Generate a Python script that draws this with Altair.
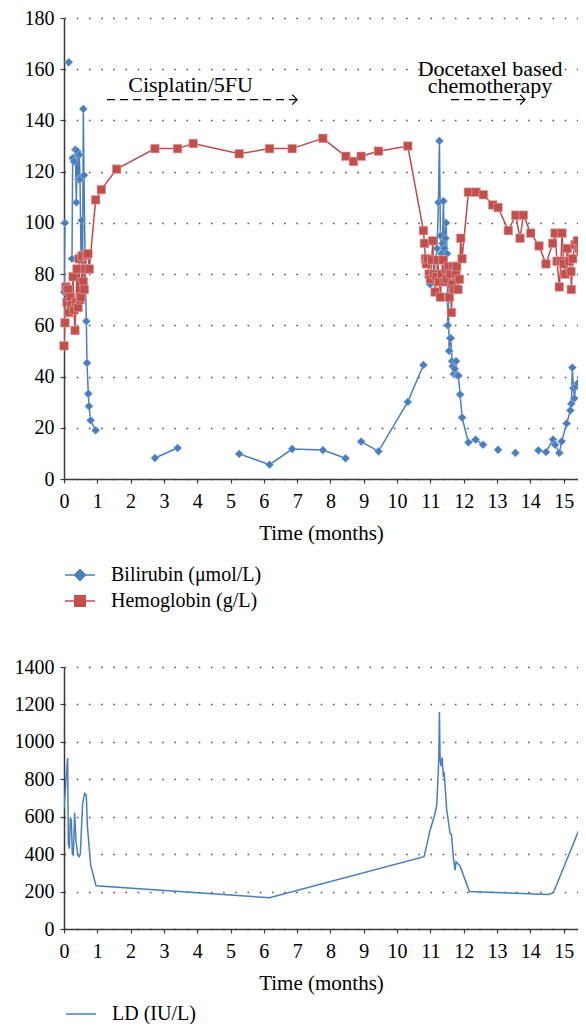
import altair as alt
import pandas as pd

FONT = "Liberation Serif"
BLUE = "#4A7EBB"
RED = "#BE4B48"
XMAX = 15.43

# ---------------- Bilirubin (umol/L) ----------------
bili_t = [0.00, 0.03,
          0.14,
          0.24, 0.26, 0.30, 0.34, 0.37, 0.40, 0.43, 0.46, 0.48, 0.51, 0.53, 0.56, 0.58, 0.60, 0.63,
          0.67, 0.69, 0.73, 0.75, 0.80, 0.95,
          2.73, 3.41,
          5.26, 6.17, 6.85, 7.77, 8.45,
          8.92, 9.44, 10.32, 10.79,
          10.99, 11.09, 11.15, 11.20, 11.24, 11.27, 11.30, 11.33, 11.36, 11.39, 11.42, 11.45, 11.47,
          11.50, 11.52, 11.54, 11.56, 11.59, 11.61, 11.65, 11.67, 11.70, 11.73, 11.77, 11.80, 11.84,
          11.89, 11.95, 12.14, 12.36, 12.58,
          13.03,
          13.55,
          14.24, 14.47, 14.68, 14.74, 14.87, 14.94, 15.09, 15.20, 15.23, 15.26, 15.29, 15.32, 15.36,
          15.43, 15.63, 15.66]
bili_v = [73, 100,
          162.7,
          86, 125.3, 124, 128.6, 108, 128, 117, 126.6, 117, 88, 101, 85, 144.5, 118.6, 88,
          61.6, 45.3, 33.3, 28.4, 22.9, 19,
          8.2, 12.1,
          9.8, 5.6, 11.7, 11.3, 8.1,
          14.6, 10.8, 30.1, 44.5,
          76, 78.5, 85, 90, 108, 132, 95, 88, 92, 108.5, 90, 94, 100,
          88, 60, 70, 50, 55, 55, 46, 44, 41, 43, 46, 40.5, 40.3,
          33, 24, 14.3, 15.4, 13.4,
          11.4,
          10.2,
          11.2, 10.5, 15.4, 13.4, 10.2, 14.7, 21.7, 26.8, 29.4, 43.5, 35.5, 31.5, 36,
          37.5, 74, 85]
bili_seg = [0, 0,
            1,
            2, 2, 2, 2, 2, 2, 2, 2, 2, 2, 2, 2, 2, 2, 2,
            2, 2, 2, 2, 2, 2,
            3, 3,
            4, 4, 4, 4, 4,
            5, 5, 5, 5,
            6, 6, 6, 6, 6, 6, 6, 6, 6, 6, 6, 6, 6,
            6, 6, 6, 6, 6, 6, 6, 6, 6, 6, 6, 6, 6,
            6, 6, 6, 6, 6,
            7,
            8,
            9, 9, 9, 9, 9, 9, 9, 9, 9, 9, 9, 9, 9,
            9, 9, 9]

# ---------------- Hemoglobin (g/L) ----------------
hb_t = [0.00, 0.03, 0.06, 0.09, 0.12, 0.15, 0.19, 0.22, 0.27, 0.30, 0.33, 0.36, 0.39, 0.42,
        0.45, 0.48, 0.51, 0.55, 0.58, 0.61, 0.64, 0.67, 0.72, 0.76,
        0.95, 1.12, 1.58, 2.73, 3.41, 3.88, 5.26, 6.17, 6.85, 7.77, 8.46, 8.69, 8.92, 9.44,
        10.32, 10.79, 10.82, 10.85, 10.88, 10.92, 10.96, 11.00, 11.04, 11.07, 11.10, 11.14,
        11.18, 11.22, 11.26, 11.30, 11.34, 11.38, 11.42, 11.46, 11.50, 11.54, 11.57, 11.60,
        11.63, 11.66, 11.69, 11.72, 11.76, 11.79, 11.83, 11.87, 11.91, 11.95,
        12.14, 12.37, 12.59, 12.87, 13.03, 13.34, 13.56, 13.69, 13.79, 14.01, 14.26, 14.47,
        14.67, 14.74, 14.80, 14.87, 14.92, 14.95, 15.00, 15.05, 15.11, 15.17, 15.22, 15.23,
        15.27, 15.34, 15.41, 15.47, 15.52, 15.59, 15.65]
hb_v = [52, 61, 75, 69, 74, 65, 71, 68, 79, 66, 58, 69, 82, 67,
        86, 70, 71, 87, 77, 74, 82, 87.5, 88, 82,
        109, 113, 121, 129, 129, 131, 127, 129, 129, 133, 126, 124, 126, 128,
        130, 97, 92, 86, 84, 86, 80, 78, 85.5, 93, 80, 73,
        79, 85.5, 77, 71, 80, 85.5, 77, 82, 78, 83, 71, 80,
        65, 76, 83, 74, 80.5, 83, 74, 78, 94, 86,
        112, 112, 111, 107, 106, 97, 103, 94, 103, 96, 91, 84,
        92, 96, 85, 75, 85, 96, 84, 80, 90, 85, 81, 74,
        86, 91.5, 93, 90, 89, 80, 97]

# ---------------- LD (IU/L) ----------------
ld_t = [0.00, 0.06, 0.11, 0.13, 0.16, 0.19, 0.22, 0.25, 0.28, 0.32, 0.36, 0.41, 0.45, 0.49,
        0.53, 0.56, 0.62, 0.67, 0.70, 0.80, 0.96, 6.17, 10.81, 10.99, 11.14, 11.19, 11.25,
        11.27, 11.29, 11.32, 11.35, 11.39, 11.41, 11.49, 11.59, 11.63, 11.69, 11.74, 11.77,
        11.89, 12.17, 14.54, 14.69, 15.67]
ld_v = [644, 795, 914, 457, 430, 596, 580, 400, 395, 621, 470, 400, 386, 400,
        560, 671, 724, 715, 555, 342, 231, 167, 386, 528, 617, 662, 900,
        1160, 911, 870, 917, 813, 840, 635, 511, 505, 377, 315, 360,
        336, 200, 185, 194, 621]

# ---------------- annotations ----------------
note_text = ["Cisplatin/5FU", "Docetaxel based\nchemotherapy"]
note_t = [3.80, 12.79]
note_v = [154.0, 160.0]
arrow_t1 = [1.29, 11.62]
arrow_t2 = [7.00, 13.84]
arrow_v = [148.1, 148.1]

BILI_LABEL = "Bilirubin (\u03bcmol/L)"
HB_LABEL = "Hemoglobin (g/L)"
LD_LABEL = "LD (IU/L)"

bili = pd.DataFrame({"t": bili_t, "v": bili_v, "seg": bili_seg, "s": BILI_LABEL})
hb = pd.DataFrame({"t": hb_t, "v": hb_v, "s": HB_LABEL})
ld = pd.DataFrame({"t": ld_t, "v": ld_v, "s": LD_LABEL})
notes = pd.DataFrame({"t": note_t, "v": note_v, "txt": note_text})
arrows = pd.DataFrame({"t": arrow_t1, "t2": arrow_t2, "v": arrow_v})

XS = alt.Scale(domain=[0, XMAX], nice=False, zero=False)
XAX = alt.Axis(values=list(range(16)), grid=False, title="Time (months)", labelFlush=False,
               labelPadding=8, titlePadding=11, format="d")


def X(field="t"):
    return alt.X(f"{field}:Q", scale=XS, axis=XAX)


YS_TOP = alt.Scale(domain=[0, 180], nice=False)
YAX_TOP = alt.Axis(values=list(range(0, 181, 20)), grid=True, title=None, minExtent=56,
                   maxExtent=56, labelPadding=6, format="d")


def YT(field="v"):
    return alt.Y(f"{field}:Q", scale=YS_TOP, axis=YAX_TOP)


DIAMOND_PATH = ("M-1,-0.05L1,-0.05L1,0.05L-1,0.05Z "
                "M0,-0.43L0.43,0L0,0.43L-0.43,0Z")
SQUARE_PATH = ("M-1,-0.05L1,-0.05L1,0.05L-1,0.05Z "
               "M-0.4,-0.4L0.4,-0.4L0.4,0.4L-0.4,0.4Z")
CHEVRON = "M-1,-1L0,0L-1,1"

EDGE = 15.25

bili_line = alt.Chart(bili).mark_line(color=BLUE, strokeWidth=1.5, clip=True).encode(
    x=X(), y=YT(), detail="seg:N")
bili_pts = alt.Chart(bili).transform_filter(f"datum.t <= {EDGE}").mark_point(
    filled=True, shape="diamond", size=70, opacity=1, stroke="#A9C1E0", strokeWidth=0.6).encode(
    x=X(), y=YT(),
    color=alt.Color("s:N", scale=alt.Scale(domain=[BILI_LABEL], range=[BLUE]),
                    legend=alt.Legend(orient="none", legendX=1, legendY=542, title=None,
                                      symbolType=DIAMOND_PATH, symbolSize=900,
                                      symbolStrokeWidth=0, labelOffset=16)))
bili_pts_r = alt.Chart(bili).transform_filter(f"datum.t > {EDGE}").mark_point(
    filled=True, shape="diamond", size=70, opacity=1, clip=True, stroke="#A9C1E0",
    strokeWidth=0.6).encode(x=X(), y=YT(), color=alt.value(BLUE))

hb_line = alt.Chart(hb).mark_line(color=RED, strokeWidth=1.5, clip=True).encode(x=X(), y=YT())
hb_pts = alt.Chart(hb).transform_filter(f"datum.t <= {EDGE}").mark_point(
    filled=True, shape="square", size=75, opacity=1, stroke="#E0AAA9", strokeWidth=0.6).encode(
    x=X(), y=YT(),
    color=alt.Color("s:N", scale=alt.Scale(domain=[HB_LABEL], range=["#C0504D"]),
                    legend=alt.Legend(orient="none", legendX=1, legendY=568, title=None,
                                      symbolType=SQUARE_PATH, symbolSize=900,
                                      symbolStrokeWidth=0, labelOffset=16)))
hb_pts_r = alt.Chart(hb).transform_filter(f"datum.t > {EDGE}").mark_point(
    filled=True, shape="square", size=75, opacity=1, clip=True, stroke="#E0AAA9",
    strokeWidth=0.6).encode(x=X(), y=YT(), color=alt.value("#C0504D"))

note_layer = alt.Chart(notes).mark_text(font=FONT, fontSize=22, color="black",
                                        baseline="middle", align="center",
                                        lineBreak="\n", lineHeight=17).encode(
    x=X(), y=YT(), text="txt:N")
arrow_layer = alt.Chart(arrows).mark_rule(color="black", strokeWidth=1.2,
                                          strokeDash=[8, 5]).encode(
    x=X(), x2="t2:Q", y=YT())
head_layer = alt.Chart(arrows).mark_point(shape=CHEVRON, size=100, filled=False,
                                          color="black", strokeWidth=1.2, opacity=1).encode(
    x=X("t2"), y=YT())

top = alt.layer(bili_line, bili_pts, bili_pts_r, hb_line, hb_pts, hb_pts_r,
                note_layer, arrow_layer, head_layer).resolve_scale(
    color="independent").properties(width=514, height=461)

YS_BOT = alt.Scale(domain=[0, 1400], nice=False)
YAX_BOT = alt.Axis(values=list(range(0, 1401, 200)), grid=True, title=None, minExtent=56,
                   maxExtent=56, labelPadding=6, format="d")

ld_line = alt.Chart(ld).mark_line(strokeWidth=1.5, clip=True).encode(
    x=X(), y=alt.Y("v:Q", scale=YS_BOT, axis=YAX_BOT),
    color=alt.Color("s:N", scale=alt.Scale(domain=[LD_LABEL], range=[BLUE]),
                    legend=alt.Legend(orient="none", legendX=6, legendY=985, title=None,
                                      symbolType="M-1.5,0L1.5,0", symbolSize=400,
                                      symbolStrokeWidth=1.5, labelOffset=20)))

bottom = ld_line.properties(width=514, height=262)

chart = alt.vconcat(top, bottom, spacing=46).properties(
    padding={"left": 0, "top": 0, "right": 0, "bottom": 0}
).configure_view(stroke=None).configure_axis(
    labelFont=FONT, titleFont=FONT, labelFontSize=20, titleFontSize=21,
    labelColor="black", titleColor="black", titleFontWeight="normal",
    domainColor="#3a3a3a", tickColor="#3a3a3a", domainWidth=1.5, tickWidth=1.2, tickSize=4,
    gridColor="#555555", gridDash=[1.6, 10.6], gridWidth=1.5
).configure_legend(
    labelFont=FONT, labelFontSize=20, labelColor="black", padding=0
)

chart.save("out.html", embed_options={"renderer": "svg", "actions": False})
